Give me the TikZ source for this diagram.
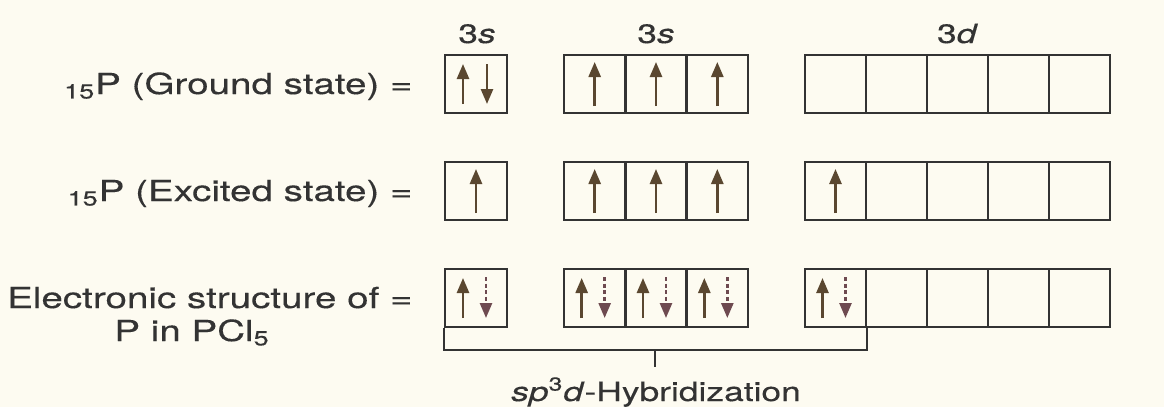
\documentclass[tikz,border=0pt]{standalone}
\usepackage{fontspec}
\setmainfont[FakeStretch=1.33,FakeBold=0.3]{TeX Gyre Heros}
\usetikzlibrary{arrows.meta,calc}
\definecolor{ink}{HTML}{333333}
\definecolor{upc}{HTML}{5A4730}
\definecolor{dnc}{HTML}{6E4A50}
\definecolor{paper}{HTML}{FDFBF1}
\newcommand\elsingle[1]{\draw[upe] ($(#1.center)+(0,22)$) -- ($(#1.center)+(0,-22)$);}
\newcommand\elpair[1]{\draw[upe] ($(#1.center)+(-13,20)$) -- ($(#1.center)+(-13,-20)$);
  \draw[upe] ($(#1.center)+(11,-20)$) -- ($(#1.center)+(11,20)$);}
\newcommand\elhyb[1]{\draw[upe] ($(#1.center)+(-13,20)$) -- ($(#1.center)+(-13,-20)$);
  \draw[dne] ($(#1.center)+(10,-21)$) -- ($(#1.center)+(10,20)$);}
\begin{document}
\begin{tikzpicture}[x=0.5pt,y=-0.5pt,
  orb/.style={draw=ink, line width=1.2pt, inner sep=0pt, minimum height=29pt},
  upe/.style={draw=upc, line width=1.3pt, -{Triangle[length=7.5pt,width=6pt,fill=upc]}},
  dne/.style={draw=dnc, line width=1.3pt, dash pattern=on 2pt off 1.3pt, -{Triangle[length=7.5pt,width=6pt,fill=dnc]}},
  lab/.style={text=ink, inner sep=0pt, font=\fontsize{14.5}{17}\selectfont},
  small/.style={text=ink, inner sep=0pt, font=\fontsize{13.3}{16}\selectfont}]
\fill[paper] (0,0) rectangle (1164,407);
\useasboundingbox (0,0) rectangle (1164,407);
% orbital boxes
\foreach \r/\y in {1/84,2/191,3/298}{
  \node[orb, minimum width=31pt] (s\r) at (476,\y) {};
  \foreach \i/\x in {1/594.67,2/656,3/717.33}
    \node[orb, minimum width=30.67pt] (p\r\i) at (\x,\y) {};
  \foreach \i/\x in {1/835.5,2/896.5,3/957.5,4/1018.5,5/1079.5}
    \node[orb, minimum width=30.5pt] (d\r\i) at (\x,\y) {};
}
% orbital labels
\node[small, anchor=base] (ls) at (477,43) {3\textit{s}};
\node[small, anchor=base] (lp) at (656,43) {3\textit{s}};
\node[small, anchor=base] (ld) at (957.5,43) {3\textit{d}};
% row labels
\node[lab, anchor=base east] (t1) at (413,94) {\textsubscript{15}P (Ground state) =};
\node[lab, anchor=base east] (t2) at (413,201) {\textsubscript{15}P (Excited state) =};
\node[lab, anchor=base east] (t3) at (413,308) {Electronic structure of =};
\node[lab, anchor=base] (t4) at (192,341) {P in PCl\textsubscript{5}};
% electrons
\elpair{s1}
\elsingle{p11}\elsingle{p12}\elsingle{p13}
\elsingle{s2}
\elsingle{p21}\elsingle{p22}\elsingle{p23}
\elsingle{d21}
\elhyb{s3}
\elhyb{p31}\elhyb{p32}\elhyb{p33}
\elhyb{d31}
% hybridization bracket
\coordinate (tk) at (655,349);
\draw[ink, line width=1.2pt] (s3.south west) -- ++(0,22) -| (d31.south east);
\node[small, anchor=base] (hyb) at (656,401) {\textit{sp}\textsuperscript{3}\textit{d}-Hybridization};
\draw[ink, line width=1.2pt] (tk) -- (tk |- 0,367);
\end{tikzpicture}
\end{document}
